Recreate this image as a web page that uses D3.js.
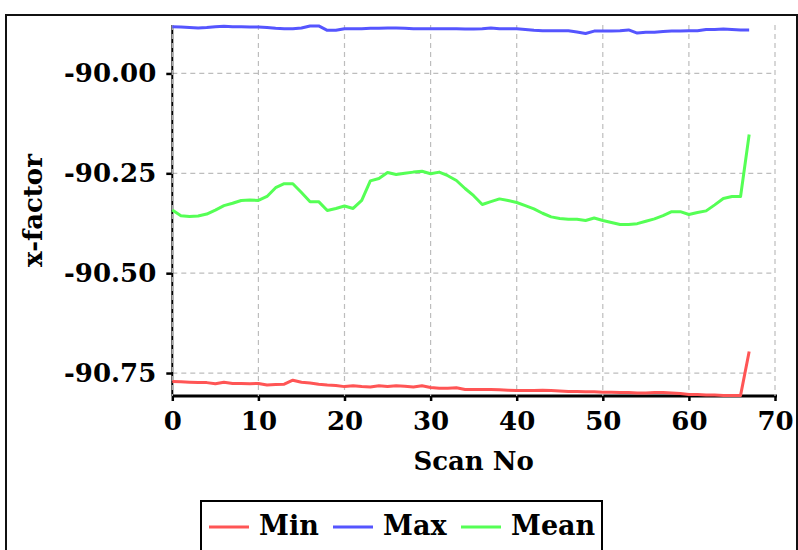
<!DOCTYPE html>
<html>
<head>
<meta charset="utf-8">
<script src="https://cdn.jsdelivr.net/npm/d3@7"></script>
<style>
  html, body { margin: 0; padding: 0; background: #ffffff; }
  svg { display: block; }
  text { font-family: "DejaVu Serif", serif; font-weight: bold; fill: #000; }
</style>
</head>
<body>
<svg id="chart" width="798" height="550"></svg>
<script>
// ---- data ----
const scanNo = d3.range(0, 68);
const minValues = [
  -90.771, -90.772, -90.773, -90.774, -90.774, -90.777, -90.773, -90.776, -90.776, -90.777,
  -90.776, -90.780, -90.779, -90.778, -90.768, -90.773, -90.775, -90.778, -90.780, -90.781,
  -90.784, -90.782, -90.784, -90.785, -90.782, -90.784, -90.782, -90.783, -90.785, -90.782,
  -90.786, -90.788, -90.788, -90.787, -90.791, -90.791, -90.791, -90.791, -90.792, -90.793,
  -90.794, -90.794, -90.794, -90.793, -90.794, -90.795, -90.796, -90.796, -90.797, -90.797,
  -90.798, -90.798, -90.799, -90.799, -90.800, -90.800, -90.799, -90.799, -90.800, -90.801,
  -90.804, -90.804, -90.805, -90.805, -90.806, -90.806, -90.806, -90.696
];
const maxValues = [
  -89.883, -89.884, -89.885, -89.886, -89.885, -89.883, -89.882, -89.883, -89.883, -89.884,
  -89.884, -89.885, -89.887, -89.888, -89.888, -89.886, -89.881, -89.881, -89.892, -89.892,
  -89.888, -89.888, -89.888, -89.887, -89.887, -89.886, -89.886, -89.887, -89.888, -89.888,
  -89.888, -89.888, -89.888, -89.888, -89.889, -89.889, -89.888, -89.886, -89.888, -89.888,
  -89.888, -89.890, -89.892, -89.893, -89.893, -89.893, -89.893, -89.896, -89.900, -89.894,
  -89.894, -89.894, -89.893, -89.891, -89.899, -89.897, -89.897, -89.895, -89.894, -89.894,
  -89.893, -89.893, -89.890, -89.890, -89.889, -89.890, -89.891, -89.891
];
const meanValues = [
  -90.342, -90.356, -90.358, -90.357, -90.352, -90.342, -90.331, -90.325, -90.318, -90.317,
  -90.318, -90.308, -90.286, -90.276, -90.276, -90.298, -90.321, -90.321, -90.343, -90.338,
  -90.332, -90.338, -90.318, -90.269, -90.263, -90.248, -90.253, -90.250, -90.247, -90.245,
  -90.251, -90.247, -90.256, -90.268, -90.288, -90.306, -90.328, -90.321, -90.314, -90.318,
  -90.323, -90.331, -90.339, -90.350, -90.359, -90.363, -90.365, -90.365, -90.368, -90.362,
  -90.368, -90.373, -90.378, -90.378, -90.376, -90.370, -90.364, -90.356, -90.346, -90.346,
  -90.353, -90.348, -90.344, -90.329, -90.313, -90.308, -90.308, -90.153
];
const seriesNames = ["Min", "Max", "Mean"];
const seriesColors = ["#ff5555", "#5555ff", "#55ff55"];
const xTicks = [0, 10, 20, 30, 40, 50, 60, 70];
const yTicks = [-90.00, -90.25, -90.50, -90.75];
const xTitle = "Scan No";
const yTitle = "x-factor";

// ---- layout ----
const plot = { left: 172.3, right: 775, top: 25, bottom: 396 };
const svg = d3.select("#chart");

// outer frame
svg.append("rect")
  .attr("x", 6).attr("y", 15).attr("width", 791).attr("height", 600)
  .attr("fill", "none").attr("stroke", "#111").attr("stroke-width", 2);

const x = d3.scaleLinear().domain([0, 70]).range([plot.left, plot.right]);
const y = d3.scaleLinear().domain([-90.8075, -89.8787]).range([plot.bottom, plot.top]);

// horizontal grid
const grid = svg.append("g");
grid.selectAll("line.h").data(yTicks).join("line").attr("class", "h")
  .attr("x1", plot.left).attr("x2", plot.right)
  .attr("y1", d => y(d)).attr("y2", d => y(d))
  .attr("stroke", "#bdbdbd").attr("stroke-width", 1.2).attr("stroke-dasharray", "5,4");

// axes
const xAxis = svg.append("g")
  .attr("transform", `translate(0,${plot.bottom})`)
  .call(d3.axisBottom(x).tickValues(xTicks).tickFormat(d => String(d)).tickSize(5).tickPadding(11));
xAxis.select(".domain").attr("stroke", "#000").attr("stroke-width", 3)
  .attr("d", `M${plot.left},0H${plot.right + 2}`);
xAxis.selectAll(".tick line").attr("stroke", "#000").attr("stroke-width", 2.5);
xAxis.selectAll(".tick text").style("font-family", "DejaVu Serif").style("font-weight", "bold")
  .style("font-size", "26px").attr("fill", "#000");

const yAxis = svg.append("g")
  .attr("transform", `translate(${plot.left},0)`)
  .call(d3.axisLeft(y).tickValues(yTicks).tickFormat(d => d.toFixed(2)).tickSize(6).tickPadding(10));
yAxis.select(".domain").attr("stroke", "#000").attr("stroke-width", 2)
  .attr("d", `M0,${plot.top}V${plot.bottom}`);
yAxis.selectAll(".tick line").attr("stroke", "#000").attr("stroke-width", 2.5);
yAxis.selectAll(".tick text").style("font-family", "DejaVu Serif").style("font-weight", "bold")
  .style("font-size", "26px").attr("fill", "#000");

// vertical grid lines (drawn over the y-axis line as in the reference)
const vgrid = svg.append("g");
vgrid.selectAll("line").data(xTicks).join("line")
  .attr("x1", d => x(d)).attr("x2", d => x(d))
  .attr("y1", plot.top).attr("y2", plot.bottom)
  .attr("stroke", "#bdbdbd").attr("stroke-width", 1.2).attr("stroke-dasharray", "5,4");

// lines
const allSeries = [minValues, maxValues, meanValues];
const lineGen = d3.line().x((d, i) => x(scanNo[i])).y(d => y(d));
svg.append("g").selectAll("path").data(allSeries).join("path")
  .attr("d", d => lineGen(d))
  .attr("fill", "none")
  .attr("stroke", (d, i) => seriesColors[i])
  .attr("stroke-width", 3)
  .attr("stroke-linejoin", "round");

// axis titles
svg.append("text")
  .attr("x", (plot.left + plot.right) / 2).attr("y", 470)
  .attr("text-anchor", "middle").style("font-size", "26px").text(xTitle);
svg.append("text")
  .attr("transform", `translate(42,${(plot.top + plot.bottom) / 2}) rotate(-90)`)
  .attr("text-anchor", "middle").style("font-size", "26px").text(yTitle);

// legend
const legend = svg.append("g");
legend.append("rect")
  .attr("x", 201).attr("y", 501).attr("width", 401).attr("height", 80)
  .attr("fill", "#fff").attr("stroke", "#000").attr("stroke-width", 2);
const legX = [209, 333, 461];
seriesNames.forEach((name, i) => {
  legend.append("line")
    .attr("x1", legX[i]).attr("x2", legX[i] + 40)
    .attr("y1", 527).attr("y2", 527)
    .attr("stroke", seriesColors[i]).attr("stroke-width", 3);
  legend.append("text")
    .attr("x", legX[i] + 50).attr("y", 535)
    .style("font-size", "27px").text(name);
});
</script>
</body>
</html>
